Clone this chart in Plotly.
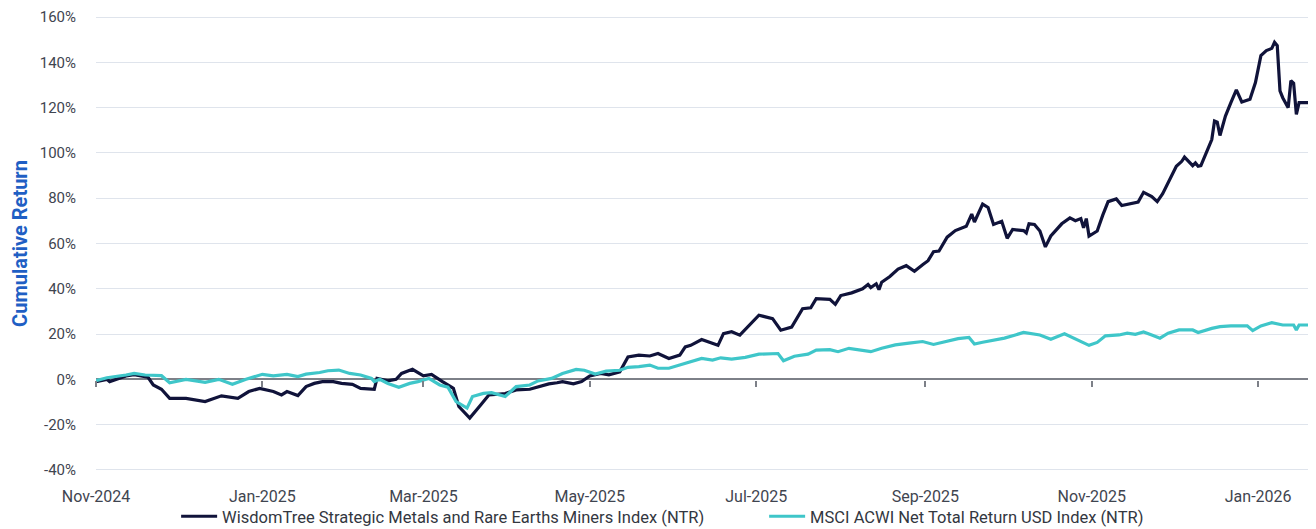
import plotly.graph_objects as go

# WisdomTree Strategic Metals and Rare Earths Miners Index (NTR) - cumulative return, %
wt_dates = [
    "2024-11-01", "2024-11-05", "2024-11-06", "2024-11-12", "2024-11-15", "2024-11-20", "2024-11-22",
    "2024-11-25", "2024-11-28", "2024-12-04", "2024-12-11", "2024-12-17", "2024-12-23", "2024-12-27",
    "2024-12-31", "2025-01-03", "2025-01-05", "2025-01-08", "2025-01-10", "2025-01-14", "2025-01-17",
    "2025-01-20", "2025-01-23", "2025-01-27", "2025-01-30", "2025-02-03", "2025-02-06", "2025-02-11",
    "2025-02-12", "2025-02-16", "2025-02-19", "2025-02-21", "2025-02-25", "2025-03-01", "2025-03-04",
    "2025-03-08", "2025-03-12", "2025-03-14", "2025-03-18", "2025-03-22", "2025-03-25", "2025-03-31",
    "2025-04-04", "2025-04-09", "2025-04-12", "2025-04-16", "2025-04-19", "2025-04-21", "2025-04-25",
    "2025-04-28", "2025-05-01", "2025-05-05", "2025-05-08", "2025-05-12", "2025-05-15", "2025-05-19",
    "2025-05-23", "2025-05-26", "2025-05-30", "2025-06-03", "2025-06-05", "2025-06-07", "2025-06-11",
    "2025-06-15", "2025-06-17", "2025-06-19", "2025-06-22", "2025-06-25", "2025-06-28", "2025-07-01",
    "2025-07-02", "2025-07-07", "2025-07-10", "2025-07-14", "2025-07-18", "2025-07-21", "2025-07-23",
    "2025-07-28", "2025-07-30", "2025-08-01", "2025-08-05", "2025-08-09", "2025-08-11", "2025-08-12",
    "2025-08-14", "2025-08-15", "2025-08-16", "2025-08-19", "2025-08-22", "2025-08-25", "2025-08-28",
    "2025-08-31", "2025-09-02", "2025-09-04", "2025-09-06", "2025-09-09", "2025-09-12", "2025-09-16",
    "2025-09-18", "2025-09-19", "2025-09-22", "2025-09-24", "2025-09-26", "2025-09-29", "2025-10-01",
    "2025-10-03", "2025-10-07", "2025-10-08", "2025-10-09", "2025-10-11", "2025-10-13", "2025-10-15",
    "2025-10-17", "2025-10-21", "2025-10-24", "2025-10-26", "2025-10-28", "2025-10-29", "2025-10-30",
    "2025-10-31", "2025-11-03", "2025-11-05", "2025-11-07", "2025-11-10", "2025-11-12", "2025-11-18",
    "2025-11-20", "2025-11-23", "2025-11-25", "2025-11-27", "2025-11-29", "2025-12-02", "2025-12-04",
    "2025-12-05", "2025-12-08", "2025-12-09", "2025-12-10", "2025-12-11", "2025-12-14", "2025-12-15",
    "2025-12-16", "2025-12-17", "2025-12-18", "2025-12-20", "2025-12-22", "2025-12-24", "2025-12-26",
    "2025-12-29", "2025-12-31", "2026-01-02", "2026-01-04", "2026-01-06", "2026-01-07", "2026-01-08",
    "2026-01-09", "2026-01-10", "2026-01-12", "2026-01-13", "2026-01-14", "2026-01-15", "2026-01-16",
    "2026-01-20",
]
wt_values = [
    -1.0, 0.0, -1.0, 1.5, 2.0, 1.0, -2.5,
    -4.4, -8.4, -8.4, -9.8, -7.3, -8.4, -5.4,
    -4.0, -4.8, -5.4, -6.9, -5.4, -7.2, -3.2,
    -1.8, -1.0, -1.0, -1.8, -2.2, -4.0, -4.4,
    0.4, -0.7, 0.0, 2.6, 4.4, 1.5, 2.2,
    -1.0, -4.0, -12.0, -17.1, -11.3, -6.9, -6.3,
    -4.7, -4.4, -3.5, -2.0, -1.5, -1.0, -2.0,
    -1.0, 1.5, 2.6, 2.0, 3.3, 9.9, 10.7,
    10.3, 11.4, 9.2, 10.7, 14.3, 15.0, 17.6,
    15.8, 15.0, 20.2, 21.0, 19.5, 23.1, 26.8,
    28.3, 26.8, 21.7, 23.1, 31.2, 31.6, 35.6,
    35.3, 33.1, 37.0, 38.2, 40.0, 41.9, 40.5,
    42.2, 39.6, 42.9, 45.4, 48.7, 50.2, 47.7,
    50.6, 52.4, 56.4, 56.7, 62.8, 65.7, 67.6,
    73.0, 69.5, 77.4, 75.9, 68.4, 69.8, 62.3,
    66.2, 65.7, 64.7, 68.7, 68.4, 65.5, 58.5,
    63.3, 68.7, 71.3, 70.1, 71.0, 66.9, 71.0,
    63.3, 65.5, 72.4, 78.5, 79.7, 76.8, 78.3,
    82.6, 80.7, 78.5, 82.0, 86.7, 94.1, 96.3,
    98.2, 94.4, 95.6, 94.1, 94.4, 103.0, 105.9,
    114.1, 113.6, 107.7, 116.3, 122.2, 127.9, 122.5,
    123.7, 131.1, 143.0, 145.2, 146.2, 148.9, 147.4,
    127.4, 124.4, 120.0, 131.9, 130.8, 117.0, 122.2,
    122.2,
]

# MSCI ACWI Net Total Return USD Index (NTR) - cumulative return, %
msci_dates = [
    "2024-11-01", "2024-11-05", "2024-11-12", "2024-11-15", "2024-11-19", "2024-11-25", "2024-11-28",
    "2024-12-04", "2024-12-11", "2024-12-16", "2024-12-21", "2024-12-26", "2025-01-01", "2025-01-05",
    "2025-01-10", "2025-01-14", "2025-01-17", "2025-01-22", "2025-01-25", "2025-01-29", "2025-02-02",
    "2025-02-06", "2025-02-10", "2025-02-11", "2025-02-13", "2025-02-16", "2025-02-20", "2025-02-24",
    "2025-02-27", "2025-03-03", "2025-03-07", "2025-03-10", "2025-03-13", "2025-03-17", "2025-03-19",
    "2025-03-23", "2025-03-26", "2025-03-31", "2025-04-04", "2025-04-09", "2025-04-12", "2025-04-17",
    "2025-04-21", "2025-04-26", "2025-04-29", "2025-05-03", "2025-05-07", "2025-05-12", "2025-05-15",
    "2025-05-19", "2025-05-23", "2025-05-26", "2025-05-30", "2025-06-03", "2025-06-06", "2025-06-11",
    "2025-06-15", "2025-06-18", "2025-06-22", "2025-06-27", "2025-07-02", "2025-07-09", "2025-07-11",
    "2025-07-15", "2025-07-20", "2025-07-23", "2025-07-28", "2025-07-31", "2025-08-04", "2025-08-08",
    "2025-08-12", "2025-08-16", "2025-08-21", "2025-08-26", "2025-08-31", "2025-09-04", "2025-09-08",
    "2025-09-13", "2025-09-17", "2025-09-19", "2025-09-22", "2025-09-26", "2025-09-30", "2025-10-04",
    "2025-10-07", "2025-10-13", "2025-10-17", "2025-10-22", "2025-10-26", "2025-10-31", "2025-11-03",
    "2025-11-06", "2025-11-11", "2025-11-14", "2025-11-17", "2025-11-20", "2025-11-23", "2025-11-26",
    "2025-11-29", "2025-12-03", "2025-12-08", "2025-12-10", "2025-12-15", "2025-12-18", "2025-12-22",
    "2025-12-28", "2025-12-30", "2026-01-02", "2026-01-06", "2026-01-10", "2026-01-14", "2026-01-15",
    "2026-01-16", "2026-01-20",
]
msci_values = [
    -0.6, 0.7, 1.9, 2.6, 1.9, 1.6, -1.5,
    0.0, -1.3, 0.0, -2.2, 0.0, 2.2, 1.5,
    2.2, 1.2, 2.3, 3.0, 3.8, 4.1, 2.6,
    1.9, 0.4, -1.0, 0.0, -1.8, -3.5, -1.8,
    -1.0, 0.4, -2.5, -3.5, -9.8, -12.7, -7.6,
    -6.2, -5.9, -7.6, -3.2, -2.5, -0.7, 0.4,
    2.6, 4.4, 4.0, 2.3, 3.6, 4.0, 5.3,
    5.6, 6.3, 4.9, 4.9, 6.3, 7.7, 9.2,
    8.5, 9.5, 8.9, 9.7, 11.1, 11.4, 8.2,
    10.2, 11.1, 12.9, 13.1, 12.2, 13.7, 12.8,
    12.2, 13.7, 15.2, 16.0, 16.7, 15.4, 16.7,
    18.0, 18.5, 15.6, 16.4, 17.2, 18.2, 19.6,
    20.7, 19.6, 17.7, 20.1, 17.7, 15.0, 16.3,
    19.2, 19.6, 20.4, 19.9, 20.9, 19.6, 18.2,
    20.4, 21.8, 21.8, 20.7, 22.5, 23.3, 23.6,
    23.6, 21.5, 23.6, 25.0, 24.0, 24.0, 21.8,
    24.0, 24.0,
]

series_names = [
    "WisdomTree Strategic Metals and Rare Earths Miners Index (NTR)",
    "MSCI ACWI Net Total Return USD Index (NTR)",
]
y_ticks = [-40, -20, 0, 20, 40, 60, 80, 100, 120, 140, 160]
y_tick_labels = [f"{v}%" for v in y_ticks]
y_range = [-40.5, 160.5]
x_range = ["2024-11-01", "2026-01-20"]

navy = "#10133a"
cyan = "#3fc6c9"
grey_text = "#3f4550"

fig = go.Figure()
fig.add_trace(go.Scatter(x=wt_dates, y=wt_values, mode="lines", name=series_names[0],
                         line=dict(color=navy, width=3.2)))
fig.add_trace(go.Scatter(x=msci_dates, y=msci_values, mode="lines", name=series_names[1],
                         line=dict(color=cyan, width=3.2), xaxis="x2"))

font_family = "Roboto, 'Open Sans', sans-serif"

# the page body adds an 8px offset, so the figure is sized to fit the window from there
fig.update_layout(
    width=1308, height=521,
    margin=dict(l=88, r=6, t=8, b=58, autoexpand=False),
    plot_bgcolor="white", paper_bgcolor="white",
    font=dict(family=font_family, size=15, color=grey_text),
    showlegend=True,
    legend=dict(orientation="h", x=0.066, xanchor="left", y=-0.1, yanchor="middle",
                font=dict(size=16.5, color="#33373f"), traceorder="normal",
                entrywidth=537, entrywidthmode="pixels",
                itemwidth=36, bgcolor="rgba(0,0,0,0)"),
    xaxis=dict(
        type="date", range=x_range, tickformat="%b-%Y", dtick="M2", tick0="2024-11-01",
        showgrid=False, showline=False, zeroline=False, automargin=False,
        ticks="outside", ticklen=11, tickcolor="rgba(0,0,0,0)",
        tickfont=dict(size=16, color=grey_text), ticklabeloverflow="allow",
    ),
    xaxis2=dict(
        type="date", matches="x", overlaying="x", anchor="free", position=0.2, side="bottom",
        dtick="M2", tick0="2024-11-01", showticklabels=False, showgrid=False, showline=False,
        zeroline=False, ticks="outside", ticklen=6, tickwidth=1.5, tickcolor="#7d8088",
        automargin=False,
    ),
    yaxis=dict(
        range=y_range, tickvals=y_ticks, ticktext=y_tick_labels, automargin=False,
        showgrid=True, gridcolor="#dfe4ec", gridwidth=1.3,
        zeroline=True, zerolinecolor="#7d8088", zerolinewidth=1.8,
        showline=False, ticks="outside", ticklen=16, tickcolor="rgba(0,0,0,0)",
        tickfont=dict(size=15, color=grey_text), ticklabeloverflow="allow",
        title=dict(text="<b>Cumulative Return</b>", standoff=10,
                   font=dict(size=20, color="#1f5fc4")),
    ),
)

fig.write_html("out.html")
